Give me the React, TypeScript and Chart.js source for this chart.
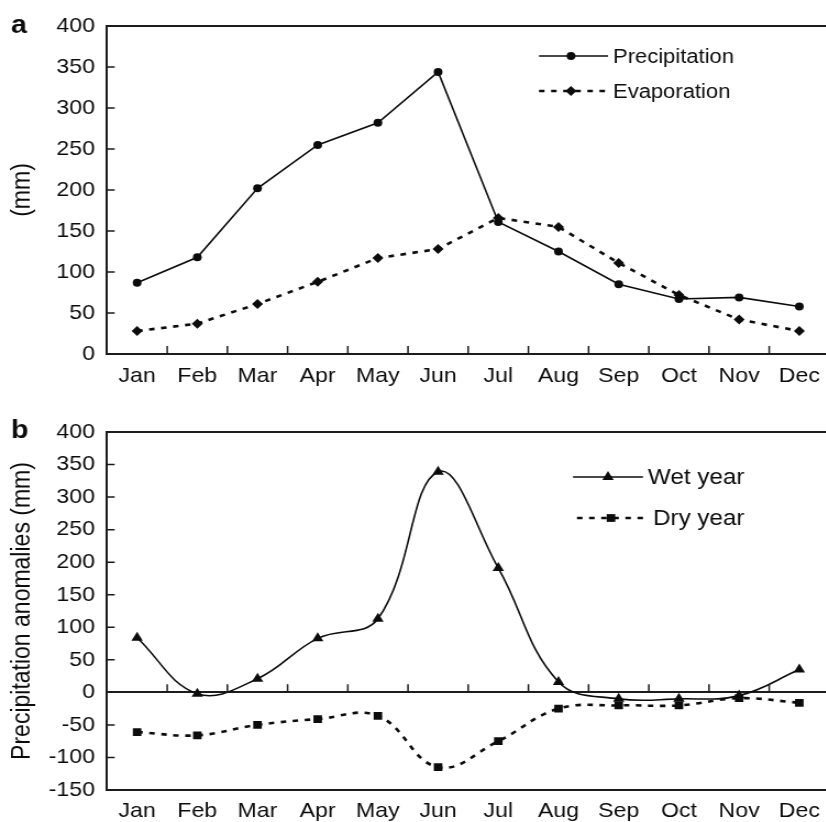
import React, { useEffect, useRef } from 'react';
import { Chart, registerables } from 'chart.js';

Chart.register(...registerables);

const months = ['Jan', 'Feb', 'Mar', 'Apr', 'May', 'Jun', 'Jul', 'Aug', 'Sep', 'Oct', 'Nov', 'Dec'];
const precipitation = [87, 118, 202, 255, 282, 344, 161, 125, 85, 67, 69, 58];
const evaporation = [28, 37, 61, 88, 117, 128, 166, 155, 111, 72, 42, 28];
const wetYear = [84, -2, 21, 83, 113, 339, 191, 16, -10, -10, -5, 35];
const dryYear = [-61, -66, -50, -41, -36, -115, -75, -25, -20, -20, -9, -16];

const FONT = "'Liberation Sans', Arial, sans-serif";
const INK = '#0c0c0c';
const AXIS = '#1c1c1c';
const CANVAS_W = 764;
const SX = 840 / CANVAS_W; // the figure is slightly stretched horizontally
const TICK_SIZE = 21;

function markerPath(ctx: CanvasRenderingContext2D, style: string, x: number, y: number, r: number) {
  ctx.beginPath();
  if (style === 'circle') {
    ctx.arc(x, y, r, 0, Math.PI * 2);
  } else if (style === 'rectRot') {
    ctx.moveTo(x - r, y);
    ctx.lineTo(x, y - r);
    ctx.lineTo(x + r, y);
    ctx.lineTo(x, y + r);
    ctx.closePath();
  } else if (style === 'triangle') {
    const a = (2 * Math.PI) / 3;
    ctx.moveTo(x, y - r);
    ctx.lineTo(x + Math.sin(a) * r, y - Math.cos(a) * r);
    ctx.lineTo(x + Math.sin(2 * a) * r, y - Math.cos(2 * a) * r);
    ctx.closePath();
  } else {
    const s = r * Math.SQRT1_2;
    ctx.rect(x - s, y - s, 2 * s, 2 * s);
  }
  ctx.fill();
}

const decorPlugin = {
  id: 'panelDecor',
  afterDraw(chart: any, _args: any, opts: any) {
    const { ctx, chartArea, scales } = chart;
    const xs = scales.x;
    const ys = scales.y;
    ctx.save();
    ctx.strokeStyle = AXIS;
    ctx.lineWidth = 2;
    ctx.setLineDash([]);
    ctx.beginPath();
    ctx.moveTo(chartArea.left, chartArea.top);
    ctx.lineTo(chartArea.right, chartArea.top);
    ctx.stroke();
    // x tick marks (inward, on the zero line)
    const y0 = ys.getPixelForValue(0);
    ctx.lineWidth = 1.5;
    ctx.beginPath();
    for (let i = 1; i <= months.length; i++) {
      const px = xs.getPixelForValue(i - 0.5);
      ctx.moveTo(px, y0);
      ctx.lineTo(px, y0 - 8);
    }
    // y tick marks (inward)
    ys.ticks.forEach((t: any) => {
      if (t.value === ys.min || t.value === ys.max) return;
      const py = ys.getPixelForValue(t.value);
      ctx.moveTo(chartArea.left, py);
      ctx.lineTo(chartArea.left + 7, py);
    });
    ctx.stroke();

    ctx.fillStyle = INK;
    ctx.font = `bold 26px ${FONT}`;
    ctx.textBaseline = 'alphabetic';
    ctx.textAlign = 'left';
    ctx.fillText(opts.letter, 10, opts.letterY);

    (opts.legend || []).forEach((item: any, i: number) => {
      const ds = chart.data.datasets[i];
      ctx.strokeStyle = ds.borderColor;
      ctx.lineWidth = ds.borderWidth;
      ctx.setLineDash(ds.borderDash || []);
      ctx.beginPath();
      ctx.moveTo(item.x1 / SX, item.y);
      ctx.lineTo(item.x2 / SX, item.y);
      ctx.stroke();
      ctx.setLineDash([]);
      ctx.fillStyle = INK;
      markerPath(ctx, ds.pointStyle, item.mx / SX, item.y, ds.pointRadius);
      ctx.font = `${opts.legendSize}px ${FONT}`;
      ctx.textBaseline = 'middle';
      ctx.fillText(ds.label, item.tx / SX, item.y + 1);
    });
    ctx.restore();
  },
};

function makeConfig(p: any): any {
  const plotLeft = 107 / SX;
  const plotRight = 829.4 / SX;
  return {
    type: 'line',
    data: { labels: months, datasets: p.datasets },
    plugins: [decorPlugin],
    options: {
      responsive: false,
      animation: false,
      layout: { padding: { top: p.padTop, right: CANVAS_W - plotRight, left: 0, bottom: 0 } },
      plugins: {
        legend: { display: false },
        tooltip: { enabled: false },
        panelDecor: { letter: p.letter, letterY: p.letterY, legend: p.legend, legendSize: p.legendSize },
      },
      scales: {
        x: {
          type: 'category',
          offset: true,
          grid: { display: false, drawTicks: false },
          border: { display: true, color: AXIS, width: 2 },
          ticks: { font: { family: FONT, size: TICK_SIZE }, color: INK, padding: p.xPad, autoSkip: false, maxRotation: 0 },
          afterFit: (s: any) => { s.height = p.xHeight; },
        },
        y: {
          min: p.min,
          max: p.max,
          ticks: { stepSize: 50, font: { family: FONT, size: TICK_SIZE }, color: INK, padding: 11 },
          grid: {
            display: p.zeroLine,
            drawTicks: false,
            lineWidth: 2,
            color: (c: any) => (c.tick && c.tick.value === 0 ? AXIS : 'rgba(0,0,0,0)'),
          },
          border: { display: true, color: AXIS, width: 2 },
          title: { display: true, text: p.yTitle, font: { family: FONT, size: 23 }, color: INK, padding: { top: 7, bottom: 0 } },
          afterFit: (s: any) => { s.width = plotLeft; },
        },
      },
    },
  };
}

export default function App() {
  const refA = useRef<HTMLCanvasElement>(null);
  const refB = useRef<HTMLCanvasElement>(null);

  useEffect(() => {
    const a = new Chart(refA.current as HTMLCanvasElement, makeConfig({
      letter: 'a',
      letterY: 33,
      padTop: 26,
      xHeight: 41,
      xPad: 10,
      min: 0,
      max: 400,
      zeroLine: false,
      yTitle: '(mm)',
      legendSize: 20,
      legend: [
        { x1: 539, x2: 608, mx: 571, tx: 613, y: 56 },
        { x1: 539, x2: 608, mx: 571, tx: 613, y: 91 },
      ],
      datasets: [
        {
          label: 'Precipitation', data: precipitation, borderColor: INK, borderWidth: 1.6, tension: 0,
          pointStyle: 'circle', pointRadius: 4, pointBackgroundColor: INK, pointBorderColor: INK, pointBorderWidth: 0, fill: false,
        },
        {
          label: 'Evaporation', data: evaporation, borderColor: INK, borderWidth: 2.6, borderDash: [5, 6], tension: 0,
          pointStyle: 'rectRot', pointRadius: 5, pointBackgroundColor: INK, pointBorderColor: INK, pointBorderWidth: 0, fill: false,
        },
      ],
    }));
    const b = new Chart(refB.current as HTMLCanvasElement, makeConfig({
      letter: 'b',
      letterY: 43,
      padTop: 37,
      xHeight: 32,
      xPad: 9,
      min: -150,
      max: 400,
      zeroLine: true,
      yTitle: 'Precipitation anomalies (mm)',
      legendSize: 22,
      legend: [
        { x1: 573, x2: 643, mx: 608, tx: 648, y: 82 },
        { x1: 577, x2: 647, mx: 611, tx: 653, y: 123 },
      ],
      datasets: [
        {
          label: 'Wet year', data: wetYear, borderColor: INK, borderWidth: 1.6, tension: 0.4,
          pointStyle: 'triangle', pointRadius: 6, pointBackgroundColor: INK, pointBorderColor: INK, pointBorderWidth: 0, fill: false,
        },
        {
          label: 'Dry year', data: dryYear, borderColor: INK, borderWidth: 2.6, borderDash: [5, 6], tension: 0.4,
          pointStyle: 'rect', pointRadius: 5.5, pointBackgroundColor: INK, pointBorderColor: INK, pointBorderWidth: 0, fill: false,
        },
      ],
    }));
    return () => { a.destroy(); b.destroy(); };
  }, []);

  const stretch = { position: 'absolute' as const, left: 0, transform: `scaleX(${SX})`, transformOrigin: '0 0' };

  return (
    <div style={{ position: 'absolute', left: 0, top: 0, width: 826, height: 822, overflow: 'hidden', background: '#fff' }}>
      <canvas ref={refA} width={CANVAS_W} height={395} style={{ ...stretch, top: 0 }} />
      <canvas ref={refB} width={CANVAS_W} height={427} style={{ ...stretch, top: 395 }} />
    </div>
  );
}
